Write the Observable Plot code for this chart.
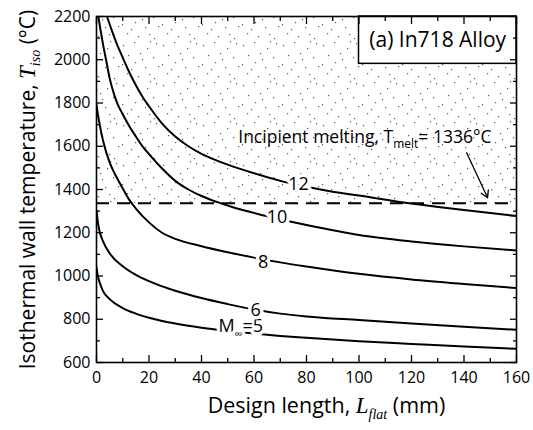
<!DOCTYPE html>
<html>
<head>
<meta charset="utf-8">
<script src="https://cdn.jsdelivr.net/npm/d3@7"></script>
<script src="https://cdn.jsdelivr.net/npm/@observablehq/plot@0.6"></script>
<style>
  html, body { margin: 0; padding: 0; background: #fff; }
  #chart { width: 533px; height: 430px; }
</style>
</head>
<body>
<div id="chart"></div>
<script>
// ---------------- data ----------------
const machNumbers = [5, 6, 8, 10, 12];

const lenM5  = [0, 0.5, 1, 2.5, 5, 10, 15, 20, 25, 30, 40, 50, 60, 70, 80, 100, 120, 140, 160];
const tempM5 = [1040, 1000, 978, 930, 893, 852, 826, 807, 792, 780, 761, 746, 734, 723, 714, 698, 686, 674, 663];

const lenM6  = [0, 0.5, 1, 2.5, 5, 10, 15, 20, 25, 30, 40, 50, 60, 70, 80, 100, 120, 140, 160];
const tempM6 = [1303, 1250, 1215, 1160, 1105, 1045, 1005, 976, 952, 932, 898, 870, 845, 826, 813, 796, 780, 765, 751];

const lenM8  = [0, 0.5, 1, 2.5, 5, 7.5, 10, 12.5, 15, 20, 25, 30, 40, 50, 60, 70, 80, 100, 120, 140, 160];
const tempM8 = [1792, 1750, 1715, 1625, 1525, 1460, 1405, 1352, 1312, 1248, 1200, 1172, 1138, 1110, 1085, 1063, 1044, 1010, 984, 963, 944];

const lenM10  = [0.7, 1.5, 2.5, 3.8, 5, 6.5, 8, 10, 12, 15, 18, 21, 25, 30, 35, 40, 45, 52, 60, 70, 80, 100, 120, 140, 160];
const tempM10 = [2200, 2140, 2070, 1990, 1915, 1848, 1796, 1748, 1703, 1645, 1592, 1550, 1497, 1440, 1400, 1370, 1346, 1318, 1292, 1262, 1236, 1190, 1160, 1137, 1118];

const lenM12  = [4, 6, 8, 10, 12, 14, 16, 18, 20, 25, 30, 35, 40, 45, 50, 60, 70, 80, 90, 100, 120, 140, 160];
const tempM12 = [2200, 2130, 2065, 2010, 1955, 1905, 1860, 1820, 1785, 1705, 1645, 1600, 1565, 1538, 1515, 1475, 1440, 1413, 1390, 1372, 1335, 1305, 1277];

// curve labels (position along each curve)
const labelText = ["M∞=5", "6", "8", "10", "12"];
const labelLen  = [55, 60.6, 63.5, 68.8, 77];
const labelTemp = [767, 841, 1063, 1271, 1426];

// melting temperature
const meltTemp = 1336;
const annotationText = "Incipient melting, Tmelt= 1336°C";
const annotationLen = 54;
const annotationTemp = 1640;
const arrowFrom = {L: 141, T: 1570};
const arrowTo   = {L: 149, T: 1362};

// panel label
const panelLabel = "(a) In718 Alloy";
const panelBox = {L1: 100, L2: 160, T1: 1981, T2: 2200};

// axes
const xDomain = [0, 160];
const yDomain = [600, 2200];
const xMajor = [0, 20, 40, 60, 80, 100, 120, 140, 160];
const xMinor = [10, 30, 50, 70, 90, 110, 130, 150];
const yMajor = [600, 800, 1000, 1200, 1400, 1600, 1800, 2000, 2200];
const yMinor = [700, 900, 1100, 1300, 1500, 1700, 1900, 2100];
const xTitle = "Design length, Lflat (mm)";
const yTitle = "Isothermal wall temperature, Tiso (°C)";

// ---------------- build table ----------------
const series = [
  {M: 5, L: lenM5, T: tempM5},
  {M: 6, L: lenM6, T: tempM6},
  {M: 8, L: lenM8, T: tempM8},
  {M: 10, L: lenM10, T: tempM10},
  {M: 12, L: lenM12, T: tempM12}
];
const curves = series.flatMap(s => s.L.map((l, i) => ({M: s.M, L: l, T: s.T[i]})));
const labels = labelText.map((t, i) => ({text: t, L: labelLen[i], T: labelTemp[i]}));

const FONT = "'Open Sans', 'DejaVu Sans', sans-serif";

const plot = Plot.plot({
  width: 533,
  height: 430,
  marginLeft: 96,
  marginRight: 17,
  marginTop: 16,
  marginBottom: 68,
  style: {fontFamily: FONT, fontSize: "16px", background: "white", color: "black"},
  x: {domain: xDomain, axis: null},
  y: {domain: yDomain, axis: null},
  marks: [
    // stippled melting region
    Plot.rect([{L1: xDomain[0], L2: xDomain[1], T1: meltTemp, T2: yDomain[1]}],
      {x1: "L1", x2: "L2", y1: "T1", y2: "T2", fill: "url(#stip)"}),
    Plot.ruleY([meltTemp], {stroke: "black", strokeWidth: 2, strokeDasharray: "13,8"}),
    // curves
    Plot.line(curves, {x: "L", y: "T", z: "M", curve: "monotone-x", stroke: "black", strokeWidth: 2, clip: true}),
    // curve labels
    Plot.text(labels, {x: "L", y: "T", text: "text", fill: "black", stroke: "white", strokeWidth: 7,
      fontSize: 18, fontFamily: FONT}),
    // panel label
    Plot.rect([panelBox], {x1: "L1", x2: "L2", y1: "T1", y2: "T2", fill: "white", stroke: "black", strokeWidth: 1.5}),
    Plot.text([panelLabel], {x: (panelBox.L1 + panelBox.L2) / 2, y: (panelBox.T1 + panelBox.T2) / 2,
      text: d => d, fontSize: 21, fontFamily: FONT, fill: "black"}),
    // annotation
    Plot.text([annotationText], {x: annotationLen, y: annotationTemp, text: d => d, textAnchor: "start",
      fontSize: 17.5, fontFamily: FONT, fill: "black"}),
    Plot.arrow([{a: arrowFrom, b: arrowTo}], {x1: d => d.a.L, y1: d => d.a.T, x2: d => d.b.L, y2: d => d.b.T,
      stroke: "black", strokeWidth: 1.3, headLength: 9}),
    // ticks (inward, mirrored)
    Plot.axisX({ticks: xMajor, anchor: "bottom", tickSize: -7, tickFormat: () => "", strokeWidth: 1.3}),
    Plot.axisX({ticks: xMinor, anchor: "bottom", tickSize: -4, tickFormat: () => "", strokeWidth: 1.3}),
    Plot.axisX({ticks: xMajor, anchor: "top", tickSize: -7, tickFormat: () => "", strokeWidth: 1.3}),
    Plot.axisX({ticks: xMinor, anchor: "top", tickSize: -4, tickFormat: () => "", strokeWidth: 1.3}),
    Plot.axisY({ticks: yMajor, anchor: "left", tickSize: -7, tickFormat: () => "", strokeWidth: 1.3}),
    Plot.axisY({ticks: yMinor, anchor: "left", tickSize: -4, tickFormat: () => "", strokeWidth: 1.3}),
    Plot.axisY({ticks: yMajor, anchor: "right", tickSize: -7, tickFormat: () => "", strokeWidth: 1.3}),
    Plot.axisY({ticks: yMinor, anchor: "right", tickSize: -4, tickFormat: () => "", strokeWidth: 1.3}),
    // tick labels
    Plot.axisX({ticks: xMajor, anchor: "bottom", tickSize: 0, tickPadding: 9, fontSize: 16, tickFormat: d => String(d)}),
    Plot.axisY({ticks: yMajor, anchor: "left", tickSize: 0, tickPadding: 6, fontSize: 16, tickFormat: d => String(d)}),
    // axis titles
    Plot.text([xTitle], {frameAnchor: "bottom", dy: 44, dx: 20, textAnchor: "middle", lineAnchor: "middle",
      text: d => d, fontSize: 21.5, fontFamily: FONT, fill: "black"}),
    Plot.text([yTitle], {frameAnchor: "left", dx: -68, rotate: -90, textAnchor: "middle", lineAnchor: "middle",
      text: d => d, fontSize: 21, fontFamily: FONT, fill: "black"}),
    Plot.frame({stroke: "black", strokeWidth: 1.6})
  ]
});

// ---------------- stipple pattern ----------------
const NS = "http://www.w3.org/2000/svg";
const defs = document.createElementNS(NS, "defs");
const pat = document.createElementNS(NS, "pattern");
pat.setAttribute("id", "stip");
pat.setAttribute("patternUnits", "userSpaceOnUse");
pat.setAttribute("width", 40);
pat.setAttribute("height", 40);
const dots = [[3,5],[14,2],[27,8],[36,3],[8,15],[20,13],[33,17],[2,24],[15,22],[25,27],[38,26],[7,33],[18,36],[29,34],[11,29],[34,38],[22,19],[30,1]];
for (const [dx, dy] of dots) {
  const r = document.createElementNS(NS, "rect");
  r.setAttribute("x", dx); r.setAttribute("y", dy);
  r.setAttribute("width", 1.2); r.setAttribute("height", 1.2);
  r.setAttribute("fill", "#555");
  pat.appendChild(r);
}
defs.appendChild(pat);
plot.insertBefore(defs, plot.firstChild);

// ---------------- rich text (subscripts, italics) ----------------
const SERIF_I = "font-family:'Liberation Serif','DejaVu Serif',serif;font-style:italic;";
function rich(plain, parts) {
  plot.querySelectorAll("text").forEach(t => {
    if (t.textContent === plain) {
      t.textContent = "";
      for (const p of parts) {
        const ts = document.createElementNS(NS, "tspan");
        ts.textContent = p.t;
        if (p.style) ts.setAttribute("style", p.style);
        if (p.dy) ts.setAttribute("dy", p.dy);
        t.appendChild(ts);
      }
    }
  });
}
rich(yTitle, [
  {t: "Isothermal wall temperature, "},
  {t: "T", style: SERIF_I + "font-size:23px"},
  {t: "iso", style: SERIF_I + "font-size:14px", dy: "5"},
  {t: " (°C)", dy: "-5"}
]);
rich(xTitle, [
  {t: "Design length, "},
  {t: "L", style: SERIF_I + "font-size:23px"},
  {t: "flat", style: SERIF_I + "font-size:14px", dy: "6"},
  {t: " (mm)", dy: "-6"}
]);
rich(annotationText, [
  {t: "Incipient melting, T"},
  {t: "melt", style: "font-size:12px", dy: "5"},
  {t: "= 1336°C", dy: "-5"}
]);
rich("M∞=5", [
  {t: "M"},
  {t: "∞", style: "font-size:11px", dy: "6"},
  {t: "=5", dy: "-6"}
]);

document.getElementById("chart").appendChild(plot);
</script>
</body>
</html>
